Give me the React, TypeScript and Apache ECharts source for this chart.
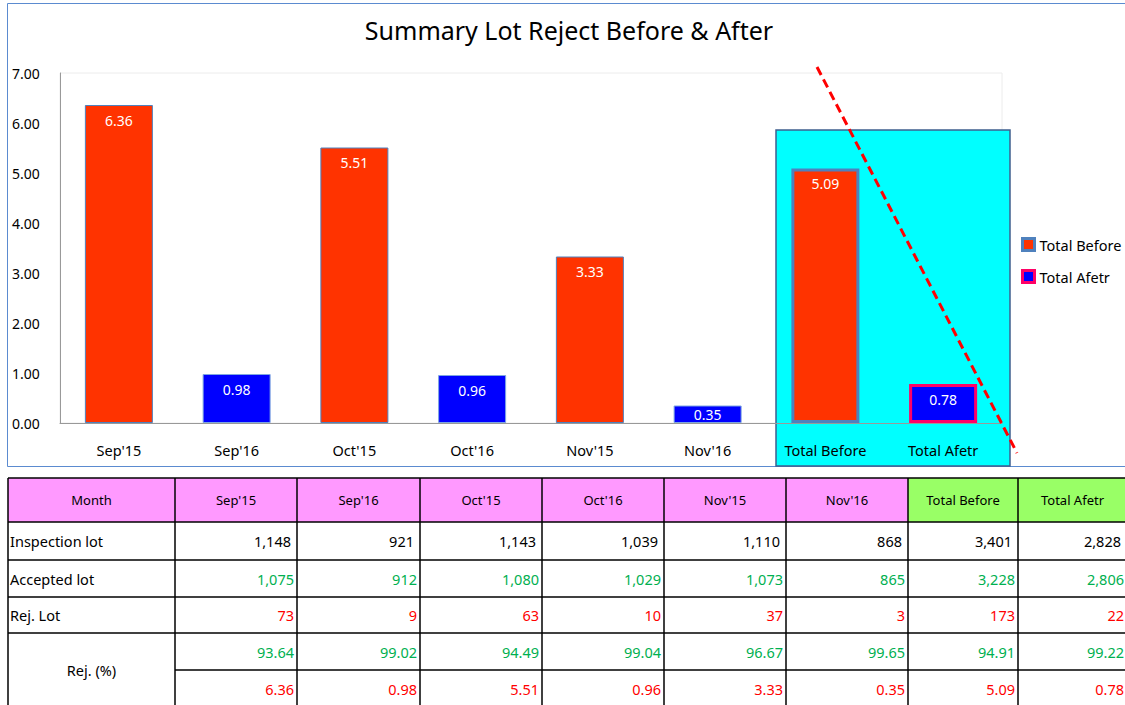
import React, { useEffect, useRef } from "react";
import * as echarts from "echarts";

const categories = ["Sep'15", "Sep'16", "Oct'15", "Oct'16", "Nov'15", "Nov'16", "Total Before", "Total Afetr"];
const rejectPct = [6.36, 0.98, 5.51, 0.96, 3.33, 0.35, 5.09, 0.78];
const isBefore = [true, false, true, false, true, false, true, false];
const yTicks = [0, 1, 2, 3, 4, 5, 6, 7];

const inspectionLot = ["1,148", "921", "1,143", "1,039", "1,110", "868", "3,401", "2,828"];
const acceptedLot = ["1,075", "912", "1,080", "1,029", "1,073", "865", "3,228", "2,806"];
const rejLot = ["73", "9", "63", "10", "37", "3", "173", "22"];
const acceptedPct = ["93.64", "99.02", "94.49", "99.04", "96.67", "99.65", "94.91", "99.22"];
const rejPctText = ["6.36", "0.98", "5.51", "0.96", "3.33", "0.35", "5.09", "0.78"];
const rowLabels = ["Inspection lot", "Accepted lot", "Rej. Lot"];

const FONT = "Noto Sans";
const RED = "#FF3300";
const BLUE = "#0000FF";
const EDGE = "#4F81BD";
const PINK = "#FF0066";

function buildTable(): any[] {
  const els: any[] = [];
  const colX = [8, 175, 297, 420, 542, 664, 786, 908, 1018, 1127];
  const rowY = [478, 522, 560, 597, 633, 670, 708];
  for (let c = 0; c < 9; c++) {
    els.push({
      type: "rect",
      shape: { x: colX[c], y: rowY[0], width: (c === 8 ? 1140 : colX[c + 1]) - colX[c], height: rowY[1] - rowY[0] },
      style: { fill: c >= 7 ? "#99FF66" : "#FF99FF" },
      z: 1,
    });
  }
  const headers = ["Month", ...categories];
  headers.forEach((h, c) => {
    els.push({
      type: "text",
      x: (colX[c] + colX[c + 1]) / 2,
      y: (rowY[0] + rowY[1]) / 2,
      style: { text: h, font: `13px '${FONT}'`, fill: "#000", align: "center", verticalAlign: "middle" },
      z: 3,
    });
  });
  const rows = [inspectionLot, acceptedLot, rejLot, acceptedPct, rejPctText];
  const colors = ["#000000", "#00B050", "#FF0000", "#00B050", "#FF0000"];
  rows.forEach((vals, r) => {
    vals.forEach((v, c) => {
      els.push({
        type: "text",
        x: colX[c + 2] - (r === 0 ? 6 : 3),
        y: (rowY[r + 1] + rowY[r + 2]) / 2,
        style: { text: v, font: `14.5px '${FONT}'`, fill: colors[r], align: "right", verticalAlign: "middle" },
        z: 3,
      });
    });
  });
  rowLabels.forEach((t, r) => {
    els.push({
      type: "text",
      x: 10,
      y: (rowY[r + 1] + rowY[r + 2]) / 2,
      style: { text: t, font: `14.5px '${FONT}'`, fill: "#000", align: "left", verticalAlign: "middle" },
      z: 3,
    });
  });
  els.push({
    type: "text",
    x: (colX[0] + colX[1]) / 2,
    y: 670,
    style: { text: "Rej. (%)", font: `14.5px '${FONT}'`, fill: "#000", align: "center", verticalAlign: "middle" },
    z: 3,
  });
  rowY.slice(0, 6).forEach((y, i) => {
    els.push({
      type: "line",
      shape: { x1: i === 5 ? colX[1] : colX[0], y1: y, x2: 1140, y2: y },
      style: { stroke: "#000", lineWidth: 1.5 },
      z: 4,
    });
  });
  colX.slice(0, 9).forEach((x) => {
    els.push({
      type: "line",
      shape: { x1: x, y1: rowY[0], x2: x, y2: 708 },
      style: { stroke: "#000", lineWidth: 1.5 },
      z: 4,
    });
  });
  return els;
}

export default function App() {
  const ref = useRef<HTMLDivElement>(null);
  useEffect(() => {
    document.body.style.margin = "0";
    const chart = echarts.init(ref.current!, null, { renderer: "svg" });
    const mk = (v: number, i: number, special: any) => {
      const item: any = { value: v };
      if (special) item.itemStyle = special;
      if (v < 0.5) item.label = { position: "inside" };
      return item;
    };
    const beforeData = rejectPct.map((v, i) =>
      isBefore[i] ? mk(v, i, i === 6 ? { borderColor: EDGE, borderWidth: 3 } : null) : "-"
    );
    const afterData = rejectPct.map((v, i) =>
      !isBefore[i] ? mk(v, i, i === 7 ? { borderColor: PINK, borderWidth: 3 } : null) : "-"
    );
    const label = {
      show: true,
      position: "insideTop",
      distance: 8,
      color: "#fff",
      fontSize: 14,
      fontFamily: FONT,
      formatter: (p: any) => Number(p.value).toFixed(2),
    };
    chart.setOption({
      animation: false,
      backgroundColor: "#fff",
      textStyle: { fontFamily: FONT },
      title: {
        text: "Summary Lot Reject Before & After",
        left: 564,
        top: 12,
        textAlign: "center",
        textStyle: { fontSize: 25, fontWeight: "normal", color: "#000", fontFamily: FONT },
      },
      legend: {
        orient: "vertical",
        left: 1016,
        top: 232,
        itemWidth: 12,
        itemHeight: 12,
        itemGap: 17,
        icon: "rect",
        textStyle: { fontSize: 14.5, color: "#000", fontFamily: FONT },
        data: [
          { name: "Total Before", itemStyle: { color: RED, borderColor: EDGE, borderWidth: 3 } },
          { name: "Total Afetr", itemStyle: { color: BLUE, borderColor: PINK, borderWidth: 3 } },
        ],
      },
      grid: {
        left: 60,
        top: 73,
        right: 123,
        bottom: 282,
        show: true,
        borderColor: "#ececec",
        borderWidth: 1,
        backgroundColor: "transparent",
      },
      xAxis: {
        type: "category",
        data: categories,
        axisLine: { lineStyle: { color: "#999" } },
        axisTick: { show: false },
        axisLabel: { color: "#000", fontSize: 14.5, margin: 19, fontFamily: FONT, interval: 0 },
      },
      yAxis: {
        type: "value",
        min: 0,
        max: 7,
        interval: 1,
        axisLine: { show: true, lineStyle: { color: "#999" } },
        axisTick: { show: false },
        splitLine: { show: false },
        axisLabel: {
          color: "#000",
          fontSize: 14,
          fontFamily: FONT,
          align: "left",
          margin: 48,
          formatter: (v: number) => (yTicks.includes(v) ? v.toFixed(2) : ""),
        },
      },
      series: [
        {
          name: "Total Before",
          type: "bar",
          barWidth: 68,
          barGap: "-100%",
          data: beforeData,
          itemStyle: { color: RED, borderColor: EDGE, borderWidth: 1 },
          label,
          z: 5,
        },
        {
          name: "Total Afetr",
          type: "bar",
          barWidth: 68,
          barGap: "-100%",
          data: afterData,
          itemStyle: { color: BLUE, borderColor: "#7EA6E0", borderWidth: 1 },
          label,
          z: 5,
        },
      ],
      graphic: [
        {
          type: "rect",
          shape: { x: 7.5, y: 3.5, width: 1140, height: 463 },
          style: { fill: "none", stroke: "#5B8BD0", lineWidth: 1 },
          z: 0,
        },
        {
          type: "rect",
          shape: { x: 776, y: 130, width: 234, height: 336 },
          style: { fill: "#00FFFF", stroke: "#3F5F8F", lineWidth: 1.5 },
          z: 0,
        },
        {
          type: "line",
          shape: { x1: 817, y1: 67, x2: 1017, y2: 453 },
          style: { stroke: "#FF0000", lineWidth: 3, lineDash: [9, 5] },
          z: 100,
        },
        ...buildTable(),
      ],
    });
    return () => chart.dispose();
  }, []);
  return <div ref={ref} style={{ width: 1125, height: 705 }} />;
}
